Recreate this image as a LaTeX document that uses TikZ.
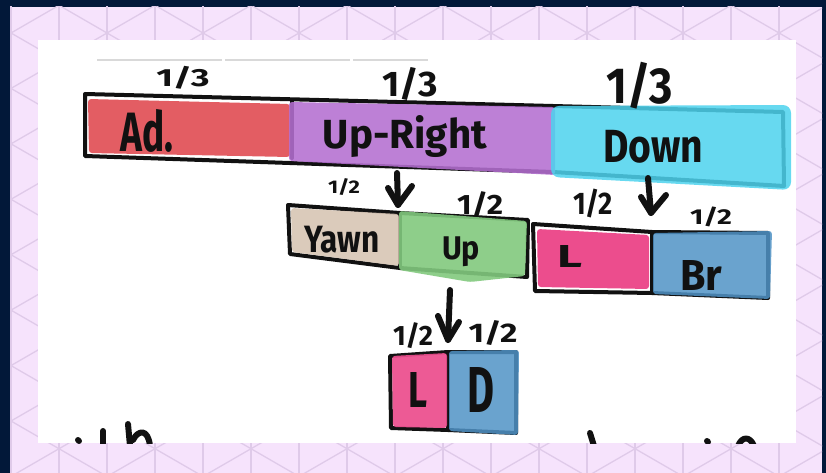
\documentclass[tikz,border=0pt]{standalone}
\usepackage{fontspec}
\setmainfont{Fira Sans}
\definecolor{navy}{HTML}{021839}
\definecolor{pinkbg}{HTML}{F6E3FC}
\definecolor{latline}{HTML}{DFCAE9}
\definecolor{cred}{HTML}{E35D63}
\definecolor{cpurple}{HTML}{B46FD1}
\definecolor{ccyan}{HTML}{4DD3EE}
\definecolor{ctan}{HTML}{D5C2B0}
\definecolor{cgreen}{HTML}{82C97E}
\definecolor{cpink}{HTML}{EC4D8D}
\definecolor{cblue}{HTML}{5093C6}
\definecolor{ink}{HTML}{111111}
\newcommand{\hw}[3]{\resizebox*{#1pt}{#2pt}{\bfseries #3}}
\tikzset{
  lat/.style={draw=latline, line width=1.3pt},
  outl/.style={draw=ink, line width=4pt, line join=round, line cap=round},
  blob/.style={rounded corners=3pt},
  lbl/.style={inner sep=0pt, text=ink},
  markerpen/.style={draw=ink, line width=6pt, line cap=round, line join=round},
}
\begin{document}
\begin{tikzpicture}[x=1pt,y=-1pt]
\useasboundingbox (0,0) rectangle (826,473);
% frame and patterned background
\fill[navy] (0,0) rectangle (826,473);
\fill[pinkbg] (10,7) rectangle (822,473);
\begin{scope}
  \clip (10,7) rectangle (822,473);
  \foreach \k in {-2,...,16} \draw[lat] ({107+48*\k},0) -- ({107+48*\k},473);
  \foreach \m in {-10,...,17} {
    \draw[lat] (0,{-28.78+55.43*\m}) -- (826,{448.1+55.43*\m});
    \draw[lat] (0,{94.78+55.43*\m}) -- (826,{-382.1+55.43*\m});
  }
\end{scope}
\fill[white] (38,40) rectangle (796,443);
\draw[draw=black!15, line width=1.5pt] (97,60) -- (222,60) (225,60) -- (350,60) (353,60) -- (428,60);

% ---------- top bar ----------
\draw[outl] (85,94) -- (553,106) -- (783,112) -- (784,186) -- (553,172) -- (85,156) -- cycle;
\draw[outl] (292,101) -- (292,158);
\fill[cred, blob] (88,99) -- (290,104) -- (290,157) -- (89,153) -- cycle;
\fill[cpurple, opacity=0.88, blob] (289,102) -- (555,107) -- (555,175) -- (289,161) -- cycle;
\fill[ccyan, opacity=0.85, rounded corners=8pt] (551,106) -- (791,105) -- (791,190) -- (551,177) -- cycle;

% ---------- second row ----------
\draw[outl] (288,205) -- (400,213) -- (528,220) -- (527,277) -- (400,268) -- (290,254) -- cycle;
\draw[outl] (400,213) -- (400,268);
\fill[ctan, opacity=0.85, blob] (291,208) -- (399,214) -- (399,266) -- (292,252) -- cycle;
\fill[cgreen, opacity=0.9, blob] (399,211) -- (527,221) -- (525,276) -- (470,282) -- (399,270) -- cycle;

\draw[outl] (533,224) -- (652,232) -- (768,233) -- (768,298) -- (652,293) -- (535,291) -- cycle;
\draw[outl] (652,232) -- (652,293);
\fill[cpink, blob] (537,229) -- (649,235) -- (649,289) -- (538,287) -- cycle;
\fill[cblue, opacity=0.85, blob] (653,233) -- (772,231) -- (770,299) -- (653,294) -- cycle;

% ---------- third row ----------
\draw[outl] (390,356) -- (448,352) -- (516,352) -- (516,433) -- (448,430) -- (391,428) -- cycle;
\draw[outl] (448,352) -- (448,430);
\fill[cpink, opacity=0.92, blob] (392,356) -- (447,353) -- (447,428) -- (393,427) -- cycle;
\fill[cblue, opacity=0.85, blob] (449,351) -- (519,350) -- (518,435) -- (449,431) -- cycle;

% ---------- labels ----------
\node[lbl] (f1) at (183,78) {\hw{53}{23}{1/3}};
\node[lbl] (f2) at (410,84) {\hw{55}{33}{1/3}};
\node[lbl] (f3) at (640,86) {\hw{66}{47}{1/3}};
\node[lbl] (ad) at (147,131) {\hw{53}{43}{Ad.}};
\node[lbl] (ur) at (405,137) {\hw{164}{42}{Up-Right}};
\node[lbl] (dn) at (653,147) {\hw{100}{33}{Down}};

\node[lbl] (h1) at (344,187) {\hw{32}{17}{1/2}};
\node[lbl] (h2) at (480,205) {\hw{46}{26}{1/2}};
\node[lbl] (h3) at (593,203) {\hw{40}{29}{1/2}};
\node[lbl] (h4) at (711,217) {\hw{42}{20}{1/2}};
\node[lbl] (yw) at (342,240) {\hw{75}{27}{Yawn}};
\node[lbl] (up) at (461,252) {\hw{38}{30}{Up}};
\node[lbl] (la) at (570,256) {\hw{25}{22}{L}};
\node[lbl] (br) at (701,275) {\hw{42}{30}{Br}};

\node[lbl] (h5) at (413,336) {\hw{40}{26}{1/2}};
\node[lbl] (h6) at (493,333) {\hw{49}{25}{1/2}};
\node[lbl] (lb) at (418,390) {\hw{19}{35}{L}};
\node[lbl] (db) at (481,390) {\hw{27}{45}{D}};

% ---------- arrows ----------
\coordinate (a1s) at (397,173);
\coordinate (a1e) at (398,205);
\draw[markerpen] (a1s) -- (a1e);
\draw[markerpen] (a1e) ++(-10,-17) -- (a1e) -- ++(14,-19);
\coordinate (a2s) at (648,178);
\coordinate (a2e) at (651,213);
\draw[markerpen] (a2s) -- (a2e);
\draw[markerpen] (a2e) ++(-10,-16) -- (a2e) -- ++(15,-18);
\coordinate (a3s) at (450,290);
\coordinate (a3e) at (448,340);
\draw[markerpen] (a3s) -- (a3e);
\draw[markerpen] (a3e) ++(-10,-24) -- (a3e) -- ++(11,-18);

% ---------- cut-off strokes at the bottom ----------
\begin{scope}
  \clip (38,40) rectangle (796,443);
  \draw[markerpen] (78,440) -- (79,441);
  \draw[markerpen] (103,431) -- (103,446);
  \draw[markerpen] (128,424) -- (130,446);
  \draw[markerpen] (133,440) .. controls (138,430) and (148,428) .. (150,446);
  \draw[markerpen] (590,433) -- (594,446);
  \draw[markerpen] (707,441) -- (708,442);
  \draw[markerpen] (738,446) .. controls (742,436) and (750,436) .. (754,446);
\end{scope}
\end{tikzpicture}
\end{document}
